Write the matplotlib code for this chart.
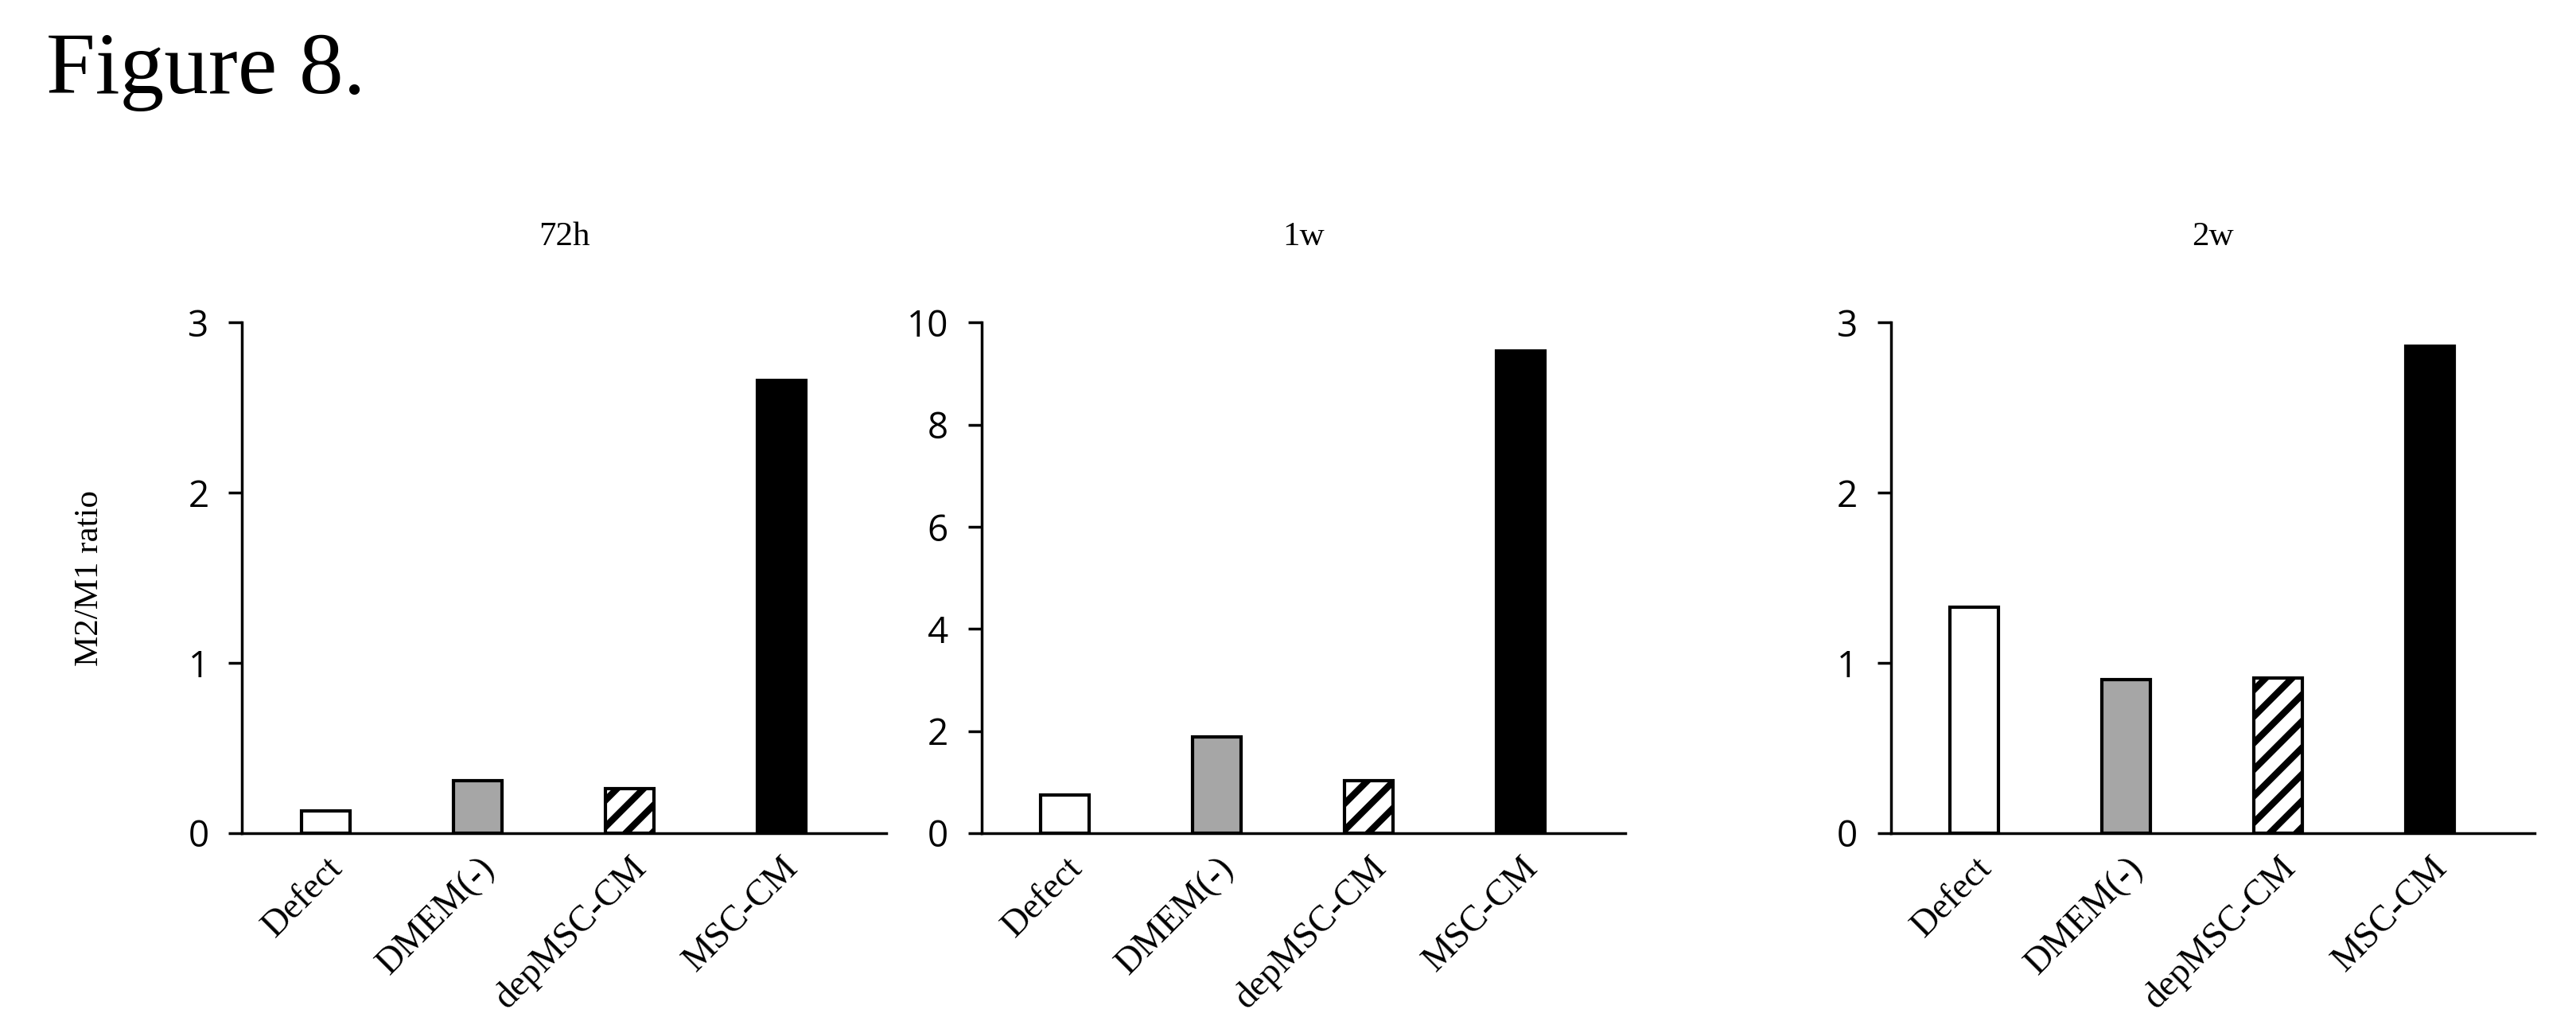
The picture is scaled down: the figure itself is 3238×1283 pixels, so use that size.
import numpy as np
import matplotlib.pyplot as plt

plt.rcParams['hatch.linewidth'] = 6

groups = ["Defect", "DMEM(-)", "depMSC-CM", "MSC-CM"]
titles = ["72h", "1w", "2w"]
vals_72h = [0.13, 0.31, 0.26, 2.66]
vals_1w = [0.75, 1.88, 1.02, 9.45]
vals_2w = [1.33, 0.90, 0.91, 2.86]
ylims = [3, 10, 3]
yticks = [[0, 1, 2, 3], [0, 2, 4, 6, 8, 10], [0, 1, 2, 3]]

faces = ["white", "#a6a6a6", "white", "black"]
hatches = [None, None, "/", None]

fig = plt.figure(figsize=(32.38, 12.83), dpi=100)
fig.text(0.018, 0.93, "Figure 8.", family="Liberation Serif", fontsize=80, va="center")

lefts = [0.094, 0.381, 0.734]
for i, (vals, t) in enumerate(zip([vals_72h, vals_1w, vals_2w], titles)):
    ax = fig.add_axes([lefts[i], 0.184, 0.25, 0.50])
    x = np.arange(len(groups))
    for xi, v, fc, h in zip(x, vals, faces, hatches):
        ax.bar(xi, v, width=0.32, color=fc, edgecolor="black", linewidth=3, hatch=h)
    ax.set_xlim(-0.55, 3.69)
    ax.set_ylim(0, ylims[i])
    ax.set_yticks(yticks[i])
    ax.set_xticks(x)
    ax.set_xticklabels(groups, rotation=45, ha="right", rotation_mode="anchor",
                       family="Liberation Serif", fontsize=33)
    for lab in ax.get_yticklabels():
        lab.set_family("Open Sans")
        lab.set_fontsize(33)
    ax.tick_params(axis="x", length=0, pad=16)
    ax.tick_params(axis="y", length=12, width=2.5, pad=18)
    for s in ["top", "right"]:
        ax.spines[s].set_visible(False)
    ax.spines["left"].set_linewidth(2.5)
    ax.spines["bottom"].set_linewidth(2.5)
    ax.set_title(t, family="Liberation Serif", fontsize=31, pad=70)
    if i == 0:
        ax.set_ylabel("M2/M1 ratio", family="Liberation Serif", fontsize=31, labelpad=75)

fig.savefig("out.png", dpi=100)
